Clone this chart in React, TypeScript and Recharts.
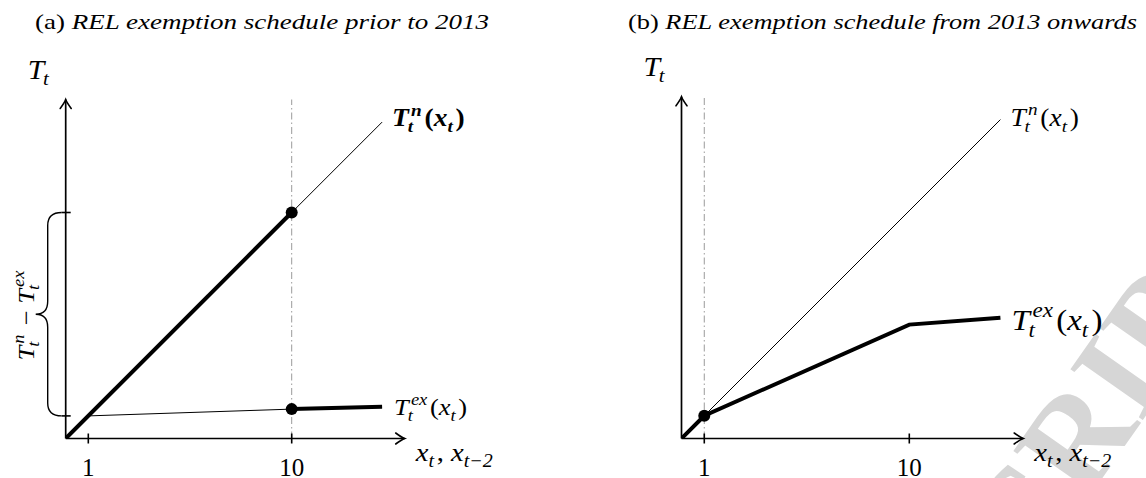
import React from "react";
import { LineChart, Line, XAxis, YAxis, ReferenceLine, ReferenceDot } from "recharts";

// shared axes
const axisMax = 15;
const xTicks = [1, 10];

// (a) prior to 2013
const aNormalBold = [{ x: 0, y: 0 }, { x: 10, y: 10 }];
const aNormalThin = [{ x: 10, y: 10 }, { x: 14, y: 14 }];
const aExemptThin = [{ x: 1, y: 1 }, { x: 10, y: 1.3 }];
const aExemptBold = [{ x: 10, y: 1.3 }, { x: 14, y: 1.4 }];
const aDots = [{ x: 10, y: 10 }, { x: 10, y: 1.3 }];
const aYTicks = [1, 10];
const aCutoff = 10;

// (b) from 2013 onwards
const bNormal = [{ x: 0, y: 0 }, { x: 14, y: 14 }];
const bExempt = [{ x: 0, y: 0 }, { x: 1, y: 1 }, { x: 10, y: 5 }, { x: 14, y: 5.3 }];
const bDots = [{ x: 1, y: 1 }];
const bCutoff = 1;

const SERIF = "'Liberation Serif', 'DejaVu Serif', serif";
const NB = "\u00a0";

let ctx: any = null;
function measure(str: string, size: number, italic?: boolean, bold?: boolean) {
  if (!ctx) ctx = document.createElement("canvas").getContext("2d");
  ctx.font = `${italic ? "italic " : ""}${bold ? "bold " : ""}${size}px ${SERIF}`;
  return ctx.measureText(str).width;
}

type Tok = { b: string; it?: boolean; sup?: string; sub?: string };

function layout(toks: Tok[], s: number, bold?: boolean) {
  const els: any[] = [];
  let cx = 0;
  toks.forEach((t, i) => {
    els.push(
      <text key={"b" + i} x={cx} y={0} fontSize={s} fontStyle={t.it ? "italic" : "normal"}>
        {t.b}
      </text>
    );
    cx += measure(t.b, s, t.it, bold);
    let e = 0;
    if (t.sup) {
      const o = t.b === "T" ? 0.08 * s : 0.02 * s;
      els.push(
        <text key={"p" + i} x={cx + o} y={-0.42 * s} fontSize={0.7 * s} fontStyle="italic">
          {t.sup}
        </text>
      );
      e = o + measure(t.sup, 0.7 * s, true, bold);
    }
    if (t.sub) {
      const o = t.b === "T" ? -0.04 * s : 0;
      els.push(
        <text key={"s" + i} x={cx + o} y={0.24 * s} fontSize={0.7 * s} fontStyle="italic">
          {t.sub}
        </text>
      );
      e = Math.max(e, o + measure(t.sub, 0.7 * s, true, bold));
    }
    if (e) cx += e + 0.1 * s;
  });
  return { els, width: cx };
}

function MathText({ x, y, s, toks, bold, sx = 1.1, center }: { x: number; y: number; s: number; toks: Tok[]; bold?: boolean; sx?: number; center?: boolean }) {
  const { els, width } = layout(toks, s, bold);
  const x0 = center ? x - (width * sx) / 2 : x;
  return (
    <g transform={`translate(${x0},${y}) scale(${sx},1)`} fontFamily={SERIF} fontWeight={bold ? 700 : 400} fill="#000">
      {els}
    </g>
  );
}

const tnToks: Tok[] = [{ b: "T", it: true, sup: "n", sub: "t" }, { b: "(" }, { b: "x", it: true, sub: "t" }, { b: ")" }];
const texToks: Tok[] = [{ b: "T", it: true, sup: "ex", sub: "t" }, { b: "(" }, { b: "x", it: true, sub: "t" }, { b: ")" }];
const xLabToks: Tok[] = [{ b: "x", it: true, sub: "t" }, { b: "," + NB }, { b: "x", it: true, sub: "t−2" }];
const yLabToks: Tok[] = [{ b: "T", it: true, sub: "t" }];
const gapToks: Tok[] = [{ b: "T", it: true, sup: "n", sub: "t" }, { b: NB + "−" + NB }, { b: "T", it: true, sup: "ex", sub: "t" }];

const AxisArrow = ({ x1, y1, x2, y2 }: any) => {
  const a = Math.atan2(y2 - y1, x2 - x1);
  const L = 9, H = 5.5;
  const c = Math.cos(a), s = Math.sin(a);
  const bx = x2 - L * c, by = y2 - L * s;
  const px = -s * H, py = c * H;
  const qx = x2 - 3 * c, qy = y2 - 3 * s;
  return (
    <g>
      <line x1={x1} y1={y1} x2={x2} y2={y2} stroke="#000" strokeWidth={1.7} />
      <path
        d={`M ${bx + px} ${by + py} Q ${qx + px * 0.2} ${qy + py * 0.2} ${x2} ${y2} Q ${qx - px * 0.2} ${qy - py * 0.2} ${bx - px} ${by - py}`}
        fill="none"
        stroke="#000"
        strokeWidth={1.6}
        strokeLinecap="round"
      />
    </g>
  );
};

const Brace = ({ x1, y1, y2 }: any) => {
  const top = Math.min(y1, y2), bot = Math.max(y1, y2), mid = (top + bot) / 2;
  const xe = x1 - 4, xb = x1 - 18, xm = x1 - 30;
  const r = 13;
  const d = `M ${xe} ${top} Q ${xb} ${top} ${xb} ${top + r} L ${xb} ${mid - r} Q ${xb} ${mid} ${xm} ${mid} Q ${xb} ${mid} ${xb} ${mid + r} L ${xb} ${bot - r} Q ${xb} ${bot} ${xe} ${bot}`;
  return (
    <g>
      <path d={d} fill="none" stroke="#000" strokeWidth={1.4} />
      <g transform={`translate(${x1 - 32},${mid}) rotate(-90)`}>
        <MathText x={0} y={0} s={24} toks={gapToks} center />
      </g>
    </g>
  );
};

const XTick = ({ cx, cy, label }: any) => (
  <g>
    <line x1={cx} x2={cx} y1={cy - 5} y2={cy + 5} stroke="#000" strokeWidth={1.6} />
    <text x={cx} y={cy + 37} textAnchor="middle" fontSize={25} fontFamily={SERIF} fill="#000">
      {label}
    </text>
  </g>
);

const YTick = ({ cx, cy }: any) => <line x1={cx - 4} x2={cx + 5} y1={cy} y2={cy} stroke="#000" strokeWidth={1.6} />;

const Dot = ({ cx, cy }: any) => <circle cx={cx} cy={cy} r={6} fill="#000" />;

const labelAt = (toks: Tok[], s: number, dx: number, dy: number, bold?: boolean) => ({ cx, cy }: any) => (
  <MathText x={cx + dx} y={cy + dy} s={s} toks={toks} bold={bold} />
);

function Title({ x, tag, text, len }: { x: number; tag: string; text: string; len: number }) {
  return (
    <text x={x} y={29} fontSize={21} fontFamily={SERIF} fill="#000" textLength={len} lengthAdjust="spacingAndGlyphs">
      <tspan>{tag + NB}</tspan>
      <tspan fontStyle="italic">{text}</tspan>
    </text>
  );
}

const thin = 1;
const bold = 4;

function PanelA() {
  return (
    <LineChart width={573} height={478} margin={{ top: 99.5, left: 65.7, right: 168.3, bottom: 39.5 }}>
      <XAxis type="number" dataKey="x" domain={[0, axisMax]} hide allowDataOverflow />
      <YAxis type="number" dataKey="y" domain={[0, axisMax]} hide allowDataOverflow />
      <ReferenceLine x={aCutoff} stroke="#9a9a9a" strokeWidth={1} strokeDasharray="7 3 1.5 3" />
      <ReferenceLine segment={[{ x: 0, y: 0 }, { x: axisMax, y: 0 }]} shape={<AxisArrow />} />
      <ReferenceLine segment={[{ x: 0, y: 0 }, { x: 0, y: axisMax }]} shape={<AxisArrow />} />
      <ReferenceLine segment={[{ x: 0, y: aYTicks[0] }, { x: 0, y: aYTicks[1] }]} shape={<Brace />} />
      {xTicks.map((t) => (
        <ReferenceDot key={"xt" + t} x={t} y={0} shape={<XTick label={t} />} />
      ))}
      {aYTicks.map((t) => (
        <ReferenceDot key={"yt" + t} x={0} y={t} shape={<YTick />} />
      ))}
      <Line data={aNormalBold} dataKey="y" stroke="#000" strokeWidth={bold} dot={false} isAnimationActive={false} />
      <Line data={aNormalThin} dataKey="y" stroke="#000" strokeWidth={thin} dot={false} isAnimationActive={false} />
      <Line data={aExemptThin} dataKey="y" stroke="#000" strokeWidth={thin} dot={false} isAnimationActive={false} />
      <Line data={aExemptBold} dataKey="y" stroke="#000" strokeWidth={bold} dot={false} isAnimationActive={false} />
      {aDots.map((p, i) => (
        <ReferenceDot key={i} x={p.x} y={p.y} r={6} shape={<Dot />} />
      ))}
      <ReferenceDot x={aNormalThin[1].x} y={aNormalThin[1].y} shape={labelAt(tnToks, 25, 10, 4, true)} />
      <ReferenceDot x={aExemptBold[1].x} y={aExemptBold[1].y} shape={labelAt(texToks, 24, 12, 8)} />
      <ReferenceDot x={axisMax} y={0} shape={labelAt(xLabToks, 26, 11, 22)} />
      <ReferenceDot x={0} y={axisMax} shape={labelAt(yLabToks, 27, -38, -21)} />
    </LineChart>
  );
}

function PanelB() {
  return (
    <LineChart width={573} height={478} margin={{ top: 96.8, left: 108.5, right: 122.8, bottom: 39.5 }}>
      <XAxis type="number" dataKey="x" domain={[0, axisMax]} hide allowDataOverflow />
      <YAxis type="number" dataKey="y" domain={[0, axisMax]} hide allowDataOverflow />
      <ReferenceLine x={bCutoff} stroke="#9a9a9a" strokeWidth={1} strokeDasharray="7 3 1.5 3" />
      <ReferenceLine segment={[{ x: 0, y: 0 }, { x: axisMax, y: 0 }]} shape={<AxisArrow />} />
      <ReferenceLine segment={[{ x: 0, y: 0 }, { x: 0, y: axisMax }]} shape={<AxisArrow />} />
      {xTicks.map((t) => (
        <ReferenceDot key={"xt" + t} x={t} y={0} shape={<XTick label={t} />} />
      ))}
      <Line data={bNormal} dataKey="y" stroke="#000" strokeWidth={thin} dot={false} isAnimationActive={false} />
      <Line data={bExempt} dataKey="y" stroke="#000" strokeWidth={bold} dot={false} isAnimationActive={false} />
      {bDots.map((p, i) => (
        <ReferenceDot key={i} x={p.x} y={p.y} r={6} shape={<Dot />} />
      ))}
      <ReferenceDot x={bNormal[1].x} y={bNormal[1].y} shape={labelAt(tnToks, 25, 10, 6)} />
      <ReferenceDot x={bExempt[3].x} y={bExempt[3].y} shape={labelAt(texToks, 30, 11, 12)} />
      <ReferenceDot x={axisMax} y={0} shape={labelAt(xLabToks, 26, 11, 22)} />
      <ReferenceDot x={0} y={axisMax} shape={labelAt(yLabToks, 27, -38, -21)} />
    </LineChart>
  );
}

export default function App() {
  return (
    <div style={{ position: "absolute", left: 0, top: 0, width: 1146, height: 478, background: "#fff", overflow: "hidden" }}>
      <svg width={1146} height={478} style={{ position: "absolute", left: 0, top: 0 }}>
        <g transform="translate(1093,418) rotate(-55)">
          <text x={0} y={42} textAnchor="middle" fontSize={135} fontWeight={700} fontFamily={SERIF} fill="#d6d6d6">
            SCRIPT
          </text>
        </g>
        <Title x={35} tag="(a)" text="REL exemption schedule prior to 2013" len={454} />
        <Title x={628} tag="(b)" text="REL exemption schedule from 2013 onwards" len={509} />
      </svg>
      <div style={{ position: "absolute", left: 0, top: 0 }}>
        <PanelA />
      </div>
      <div style={{ position: "absolute", left: 573, top: 0 }}>
        <PanelB />
      </div>
    </div>
  );
}
